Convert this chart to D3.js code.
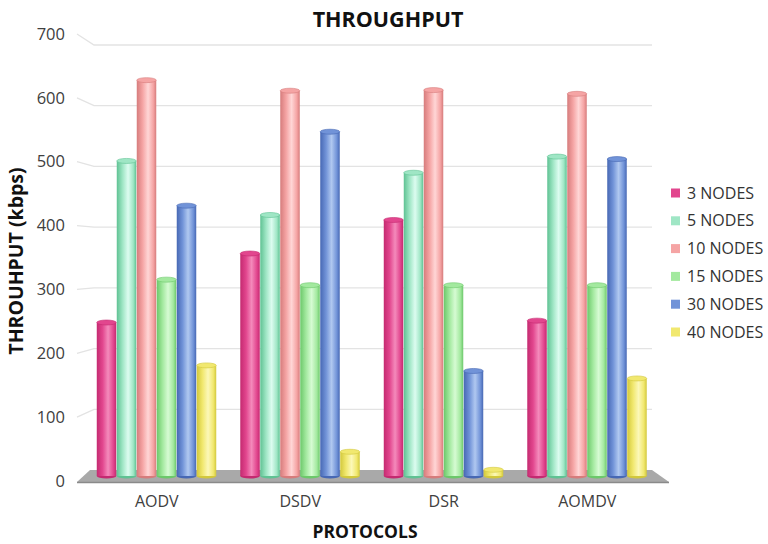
<!DOCTYPE html>
<html><head><meta charset="utf-8">
<script src="https://cdn.jsdelivr.net/npm/d3@7"></script>
<style>body{margin:0;background:#fff}svg{display:block;font-family:"Open Sans",sans-serif}</style>
</head><body><svg id="c" width="768" height="544"></svg>
<script>
const categories = ["AODV","DSDV","DSR","AOMDV"];
const seriesNames = ["3 NODES","5 NODES","10 NODES","15 NODES","30 NODES","40 NODES"];
const s3  = [247, 358, 412, 250];
const s5  = [507, 420, 488, 514];
const s10 = [637, 620, 621, 615];
const s15 = [316, 307, 307, 307];
const s30 = [435, 554, 169, 510];
const s40 = [178, 39, 10, 157];
const seriesValues = [s3, s5, s10, s15, s30, s40];
const yTicks = [0,100,200,300,400,500,600,700];
const colors = [
  {dark:"#c42a70", base:"#e2468e", light:"#f48abb"},
  {dark:"#5fc293", base:"#9fe6c5", light:"#dcfcf0"},
  {dark:"#d67c7c", base:"#f5a4a4", light:"#ffd6d6"},
  {dark:"#6cc86a", base:"#a3e99f", light:"#d6fbd3"},
  {dark:"#4768b4", base:"#7193d8", light:"#b0c8f0"},
  {dark:"#d2c83c", base:"#f1e86f", light:"#fcf8b8"}
];

const svg = d3.select("#c");
const y = d3.scaleLinear().domain([0,700]).range([476,41]);
const yLab = d3.scaleLinear().domain([0,700]).range([481,34]);
const x = d3.scaleBand().domain(categories).range([85,659]).paddingInner(0.164).paddingOuter(0.082);
const xs = d3.scaleBand().domain(seriesNames).range([0, x.bandwidth()]);

const defs = svg.append("defs");
colors.forEach((c,i)=>{
  const g = defs.append("linearGradient").attr("id","g"+i).attr("x1","0").attr("x2","1").attr("y1","0").attr("y2","0");
  g.append("stop").attr("offset","0%").attr("stop-color",c.dark);
  g.append("stop").attr("offset","30%").attr("stop-color",c.base);
  g.append("stop").attr("offset","58%").attr("stop-color",c.light);
  g.append("stop").attr("offset","85%").attr("stop-color",c.base);
  g.append("stop").attr("offset","100%").attr("stop-color",c.dark);
});

// gridlines with perspective slant
const gx0 = 77, gx1 = 94, gx2 = 652;
const gridY = d3.scaleLinear().domain([0,700]).range([470,45]);
yTicks.forEach(t=>{
  if (t===0) return;
  svg.append("path")
    .attr("d", `M${gx0},${yLab(t)} L${gx1},${gridY(t)} L${gx2},${gridY(t)}`)
    .attr("fill","none").attr("stroke","#e3e3e3").attr("stroke-width",1.3);
});

// floor
const fy0 = gridY(0), fy1 = y(0)+6;
svg.append("polygon")
  .attr("points", `${gx1-4},${fy0} ${gx2},${fy0} ${gx2+17},${fy1} ${gx0},${fy1}`)
  .attr("fill","#a9a9a9");
svg.append("line").attr("x1",gx0).attr("x2",gx2+17).attr("y1",fy1+0.5).attr("y2",fy1+0.5)
  .attr("stroke","#8a8a8a").attr("stroke-width",1.5);

// y tick labels
svg.append("g").selectAll("text").data(yTicks).join("text")
  .attr("x",65).attr("y",d=>yLab(d)).attr("dy","0.35em")
  .attr("text-anchor","end").attr("font-size",16.5).attr("fill","#404040").text(d=>d);

// bars
const groups = svg.append("g").selectAll("g").data(categories).join("g")
  .attr("transform",d=>`translate(${x(d)},0)`);
seriesNames.forEach((s,i)=>{
  groups.append("g").each(function(cat,ci){
    const v = seriesValues[i][ci];
    const g = d3.select(this);
    const bx = xs(s), bw = xs.bandwidth()-0.5;
    g.append("ellipse").attr("cx",bx+bw/2).attr("cy",y(0)).attr("rx",bw/2).attr("ry",2.5).attr("fill",colors[i].dark);
    g.append("rect").attr("x",bx).attr("y",y(v)).attr("width",bw).attr("height",y(0)-y(v))
      .attr("fill",`url(#g${i})`);
    g.append("ellipse").attr("cx",bx+bw/2).attr("cy",y(v)).attr("rx",bw/2).attr("ry",2.5)
      .attr("fill",colors[i].base).attr("stroke",colors[i].dark).attr("stroke-width",0.6);
  });
});

// x labels
svg.append("g").selectAll("text").data(categories).join("text")
  .attr("x",d=>x(d)+x.bandwidth()/2).attr("y",507)
  .attr("text-anchor","middle").attr("font-size",16).attr("fill","#404040").text(d=>d);

// titles
svg.append("text").attr("x",388).attr("y",27).attr("text-anchor","middle")
  .attr("font-size",21.5).attr("font-weight","bold").attr("fill","#111").text("THROUGHPUT");
svg.append("text").attr("x",365).attr("y",538).attr("text-anchor","middle")
  .attr("font-size",17.5).attr("font-weight","bold").attr("fill","#111").text("PROTOCOLS");
svg.append("text").attr("transform","translate(16,261) rotate(-90)").attr("dy","0.35em")
  .attr("text-anchor","middle").attr("font-size",19.5).attr("font-weight","bold").attr("fill","#111")
  .text("THROUHPUT (kbps)");

// legend
const leg = svg.append("g").selectAll("g").data(seriesNames).join("g")
  .attr("transform",(d,i)=>`translate(671,${193 + i*27.8})`);
leg.append("rect").attr("x",0).attr("y",-4.5).attr("width",9).attr("height",9).attr("fill",(d,i)=>colors[i].base);
leg.append("text").attr("x",16).attr("dy","0.35em").attr("font-size",16).attr("fill","#333").text(d=>d);
</script></body></html>
